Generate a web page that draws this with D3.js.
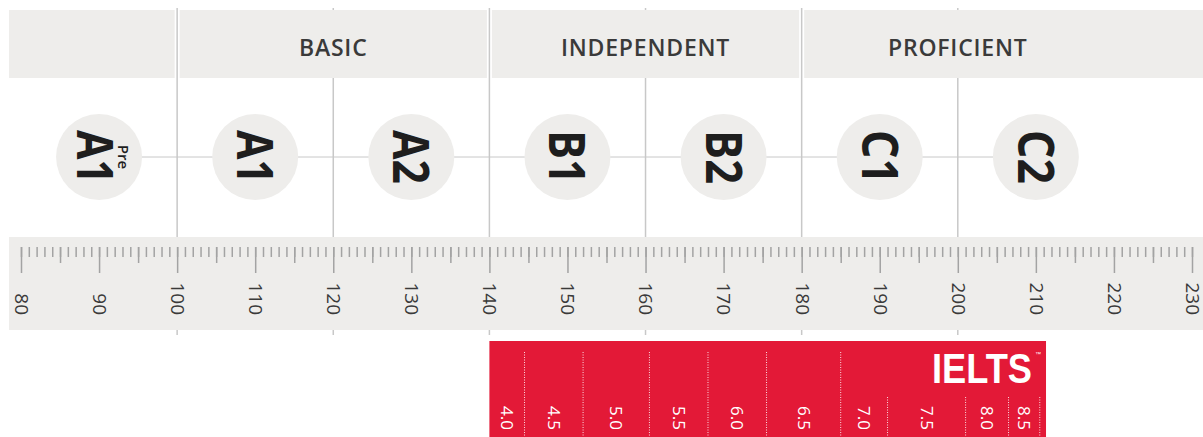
<!DOCTYPE html>
<html>
<head>
<meta charset="utf-8">
<script src="https://cdn.jsdelivr.net/npm/d3@7"></script>
<style>
  body { margin: 0; background: #fff; }
  svg { display: block; }
</style>
</head>
<body>
<div id="chart"></div>
<script>
// CEFR levels and where they sit on the Cambridge English Scale
const levels = ['A1', 'A1', 'A2', 'B1', 'B2', 'C1', 'C2'];
const levelScores = [90, 110, 130, 150, 170, 190, 210];
const levelSup = ['Pre', '', '', '', '', '', ''];

// borders between the levels
const levelBorders = [100, 120, 140, 160, 180, 200];

// header groups, split at these scores
const groupNames = ['', 'BASIC', 'INDEPENDENT', 'PROFICIENT'];
const groupBreaks = [100, 140, 180];
const groupCentres = [null, 120, 160, 200];

// ruler
const scaleMin = 80, scaleMax = 230;

// IELTS bands on the same scale
const ieltsBands = ['4.0', '4.5', '5.0', '5.5', '6.0', '6.5', '7.0', '7.5', '8.0', '8.5'];
const ieltsFrom = [140, 144.5, 152, 160.5, 168, 175.5, 185, 191, 201, 206.5];
const ieltsTo = [144.5, 152, 160.5, 168, 175.5, 185, 191, 201, 206.5, 210.5];
const ieltsEnd = 211.3;

drawChart();

function drawChart() {
    const width = 1203, height = 437;
    const grey = '#eeedeb',
        lineGrey = '#c8c8c8',
        tickGrey = '#a3a3a3',
        textGrey = '#3a3a3a',
        red = '#e31937',
        fontFamily = '"Open Sans", sans-serif';

    const x = d3.scaleLinear()
        .domain([scaleMin, scaleMax])
        .range([21, 1192]);

    const svg = d3.select('#chart')
        .append('svg')
        .attr('width', width)
        .attr('height', height);

    // vertical borders go first, the grey bands cover part of them
    svg.selectAll('.border')
        .data(levelBorders)
        .enter()
        .append('line')
        .attr('x1', d => x(d))
        .attr('x2', d => x(d))
        .attr('y1', 8)
        .attr('y2', 335)
        .attr('stroke', lineGrey)
        .attr('stroke-width', 1.5);

    // header bands with a small gap round each group break
    const gap = 2.5;
    const edges = [null].concat(groupBreaks).concat([null]);
    const header = svg.selectAll('.group')
        .data(groupNames)
        .enter()
        .append('g');

    header.append('rect')
        .attr('x', (d, i) => i === 0 ? 9 : x(edges[i]) + gap)
        .attr('y', 10)
        .attr('width', (d, i) => {
            const left = i === 0 ? 9 : x(edges[i]) + gap;
            const right = edges[i + 1] === null ? width : x(edges[i + 1]) - gap;
            return right - left;
        })
        .attr('height', 68)
        .attr('fill', grey);

    header.filter(d => d !== '')
        .append('text')
        .attr('x', d => x(groupCentres[groupNames.indexOf(d)]))
        .attr('y', 56)
        .attr('text-anchor', 'middle')
        .attr('fill', textGrey)
        .style('font-family', fontFamily)
        .style('font-weight', 600)
        .style('font-size', '23px')
        .style('letter-spacing', '0.8px')
        .text(d => d);

    // connector through the circles
    svg.append('line')
        .attr('x1', x(levelScores[0]))
        .attr('x2', x(levelScores[levelScores.length - 1]))
        .attr('y1', 157)
        .attr('y2', 157)
        .attr('stroke', lineGrey)
        .attr('stroke-width', 1);

    const circles = svg.selectAll('.level')
        .data(levels)
        .enter()
        .append('g')
        .attr('transform', (d, i) => 'translate(' + x(levelScores[i]) + ',157)');

    circles.append('circle')
        .attr('r', 43)
        .attr('fill', grey);

    const labels = circles.append('g')
        .attr('transform', 'rotate(90)');

    labels.append('text')
        .attr('x', 0)
        .attr('y', (d, i) => levelSup[i] ? 22 : 18)
        .attr('text-anchor', 'middle')
        .attr('textLength', 54)
        .attr('lengthAdjust', 'spacingAndGlyphs')
        .attr('fill', '#1e1e1e')
        .style('font-family', fontFamily)
        .style('font-weight', 700)
        .style('font-size', '50px')
        .text(d => d);

    labels.filter((d, i) => levelSup[i] !== '')
        .append('text')
        .attr('x', 0)
        .attr('y', -19)
        .attr('text-anchor', 'middle')
        .attr('fill', '#1e1e1e')
        .style('font-family', fontFamily)
        .style('font-weight', 600)
        .style('font-size', '15px')
        .text('Pre');

    // ruler
    svg.append('rect')
        .attr('x', 9)
        .attr('y', 237)
        .attr('width', width - 9)
        .attr('height', 93)
        .attr('fill', grey);

    const ruler = svg.append('g')
        .attr('transform', 'translate(0,247)');

    function tickAxis(values, size) {
        const g = ruler.append('g')
            .call(d3.axisBottom(x).tickValues(values).tickSize(size).tickFormat(''));
        g.select('.domain').remove();
        g.selectAll('line')
            .attr('stroke', tickGrey)
            .attr('stroke-width', 1.5);
        return g;
    }

    tickAxis(d3.range(scaleMin, scaleMax + 1, 1), 10);
    tickAxis(d3.range(scaleMin + 5, scaleMax, 10), 16);
    const major = tickAxis(d3.range(scaleMin, scaleMax + 1, 10), 26);
    major.selectAll('.tick text')
        .text(d => d)
        .attr('x', 0)
        .attr('y', 0)
        .attr('dy', '0.35em')
        .attr('text-anchor', 'end')
        .attr('transform', 'translate(0,68) rotate(90)')
        .attr('fill', textGrey)
        .style('font-family', fontFamily)
        .style('font-size', '19px');

    // IELTS bar
    const ielts = svg.append('g');
    ielts.append('rect')
        .attr('x', x(ieltsFrom[0]))
        .attr('y', 341)
        .attr('width', x(ieltsEnd) - x(ieltsFrom[0]))
        .attr('height', height - 341)
        .attr('fill', red);

    ielts.selectAll('.sep')
        .data(ieltsTo)
        .enter()
        .append('line')
        .attr('x1', d => x(d))
        .attr('x2', d => x(d))
        .attr('y1', d => d > 188 ? 397 : 352)
        .attr('y2', height)
        .attr('stroke', '#fff')
        .attr('stroke-opacity', 0.85)
        .attr('stroke-width', 1)
        .attr('stroke-dasharray', '1,1.5');

    ielts.selectAll('.band')
        .data(ieltsBands)
        .enter()
        .append('text')
        .attr('transform', (d, i) => 'translate(' + x((ieltsFrom[i] + ieltsTo[i]) / 2) + ',418) rotate(90)')
        .attr('dy', '0.35em')
        .attr('text-anchor', 'middle')
        .attr('fill', '#fff')
        .style('font-family', fontFamily)
        .style('font-size', '17px')
        .text(d => d);

    ielts.append('text')
        .attr('x', 1032)
        .attr('y', 383)
        .attr('text-anchor', 'end')
        .attr('textLength', 100)
        .attr('lengthAdjust', 'spacingAndGlyphs')
        .attr('fill', '#fff')
        .style('font-family', '"Liberation Sans", Arial, sans-serif')
        .style('font-weight', 700)
        .style('font-size', '42px')
        .text('IELTS');

    ielts.append('text')
        .attr('x', 1035)
        .attr('y', 356)
        .attr('fill', '#fff')
        .style('font-family', '"Liberation Sans", Arial, sans-serif')
        .style('font-size', '6px')
        .text('™');
}
</script>
</body>
</html>
